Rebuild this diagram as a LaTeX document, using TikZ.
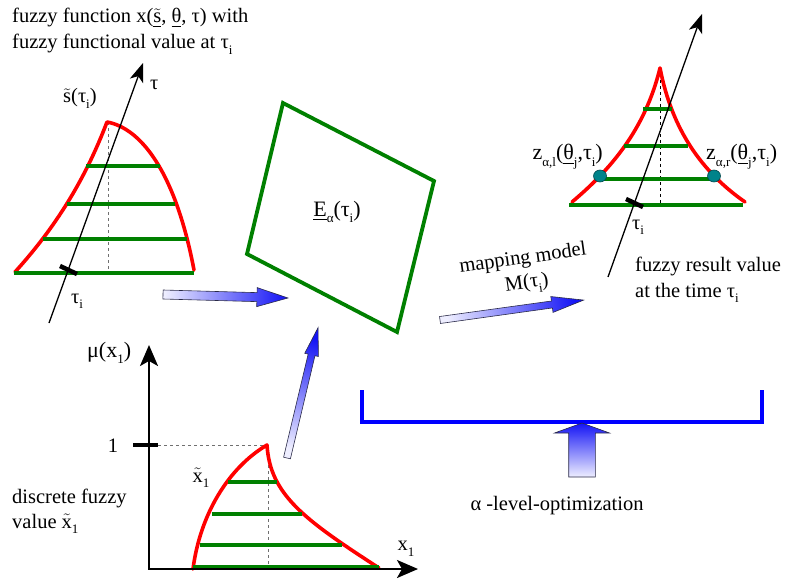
\documentclass[tikz,border=0pt]{standalone}
\usepackage{amsmath}
\usepackage{fontspec}
\setmainfont{Liberation Serif}
\usepackage{tikz}
\usetikzlibrary{arrows.meta,positioning,calc,shapes.geometric}
\definecolor{Ink}{HTML}{000000}
\definecolor{Guide}{HTML}{707070}
\definecolor{FzRed}{HTML}{FF0000}
\definecolor{FzGreen}{HTML}{008000}
\definecolor{FzBlue}{HTML}{0000FF}
\definecolor{Teal}{HTML}{00838A}
\definecolor{TealDark}{HTML}{00474B}
\definecolor{ArrowTail}{HTML}{EEEEFF}
\definecolor{ArrowHead}{HTML}{1414F5}
\definecolor{ArrowEdge}{HTML}{2A2A48}
\newcommand{\lowsub}[1]{\raisebox{-0.6ex}{\fontsize{13}{13}\selectfont #1}}
\newcommand{\fatarrow}[6]{%
  \begin{scope}[shift={#1},rotate=#2]
    \path[fat,shading angle={#2-90}] (0,-#4) -- (#3-#6,-#4) -- (#3-#6,-#5) -- (#3,0)
      -- (#3-#6,#5) -- (#3-#6,#4) -- (0,#4) -- cycle;
  \end{scope}}
\tikzset{
  memb/.style={draw=FzRed,line width=3.6pt,line cap=round,line join=round},
  cut/.style={draw=FzGreen,line width=3.8pt},
  tauaxis/.style={draw=Ink,line width=1.3pt,-{Stealth[length=19pt,width=14pt,inset=5pt]}},
  muaxis/.style={draw=Ink,line width=2.2pt,{Stealth[length=21pt,width=18pt,inset=5pt]}-{Stealth[length=21pt,width=18pt,inset=5pt]}},
  guide/.style={draw=Guide,dashed,line width=0.7pt},
  tickmark/.style={draw=Ink,line width=4.5pt},
  hullbox/.style={draw=FzGreen,line width=3.8pt,line join=miter},
  bracket/.style={draw=FzBlue,line width=4pt},
  zdot/.style={ellipse,draw=TealDark,line width=0.6pt,fill=Teal,minimum width=13pt,minimum height=12pt,inner sep=0pt},
  fat/.style={draw=ArrowEdge,line width=0.6pt,shading=axis,bottom color=ArrowTail,top color=ArrowHead},
  lbl/.style={font=\fontsize{20.5}{26}\selectfont,inner sep=0pt},
  midlbl/.style={font=\fontsize{22}{26}\selectfont,inner sep=0pt},
  nextline/.style={lbl,anchor=base west}
}
\begin{document}
\begin{tikzpicture}[x=1pt,y=-1pt]
  \useasboundingbox (0,0) rectangle (786,580);
  % fuzzy function over tau
  \node[nextline] (funtitle) at (12,23) {fuzzy function x($\underline{\tilde{\text{s}}}$, \underline{θ}, τ) with};
  \node[nextline] (funsub) at ($(funtitle.base west)+(0,26)$) {fuzzy functional value at τ\lowsub{i}};
  \draw[guide] (108,122) -- (108,273);
  \draw[memb] (15,272) .. controls (55,228) and (85,180) .. (107,122)
    .. controls (140,128) and (175,170) .. (194,270);
  \foreach \y/\a/\b in {166/86/160,204/67/175,239/43/187,273/14/194}
    \draw[cut] (\a,\y) -- (\b,\y);
  \coordinate (taubot) at (49,323);
  \coordinate (tautop) at (143,63);
  \draw[tauaxis] (taubot) -- (tautop);
  \draw[tickmark] (60,266) -- (77,274);
  \node[nextline] (stilde) at (63,103) {$\tilde{\text{s}}$(τ\lowsub{i})};
  \node[nextline] (taulbl) at (150,90) {τ};
  \node[nextline] (tauileft) at (71,303) {τ\lowsub{i}};
  % alpha-level set
  \draw[hullbox] (283,103) -- (434,181) -- (397,332) -- (247,254) -- cycle;
  \node[midlbl] (elabel) at (337,212) {\underline{E}\lowsub{α}(τ\lowsub{i})};
  % fuzzy result
  \draw[guide,draw=Ink] (660,68) -- (660,205);
  \draw[memb] (572,202) .. controls (610,170) and (645,130) .. (660,68)
    .. controls (672,130) and (702,172) .. (745,202);
  \foreach \y/\a/\b in {109/643/672,146/624/688,179/600/713,205/569/743}
    \draw[cut] (\a,\y) -- (\b,\y);
  \draw[tauaxis] (608,277) -- (702,14);
  \draw[tickmark] (626,199) -- (643,207);
  \node[zdot] (zleft) at (600,176) {};
  \node[zdot] (zright) at (714,176) {};
  \node[midlbl,anchor=base east] (zl) at (603,160) {z\lowsub{α,l}(\underline{θ}\lowsub{j},τ\lowsub{i})};
  \node[midlbl,anchor=base west] (zr) at (706,160) {z\lowsub{α,r}(\underline{θ}\lowsub{j},τ\lowsub{i})};
  \node[nextline] (tauiright) at (632,229) {τ\lowsub{i}};
  \node[nextline] (result) at (635,271) {fuzzy result value};
  \node[nextline] (resulttime) at ($(result.base west)+(0,26)$) {at the time τ\lowsub{i}};
  \node[lbl,rotate=8] (mapping) at (523,259) {mapping model};
  \node[lbl,rotate=8] (mapname) at (527,284) {M(τ\lowsub{i})};
  % discrete fuzzy value
  \draw[guide] (158,445) -- (267,445);
  \draw[guide] (268,447) -- (268,569);
  \draw[memb] (193,569) .. controls (200,515) and (228,468) .. (267,445)
    .. controls (270,495) and (305,520) .. (379,568);
  \foreach \y/\a/\b in {482/228/277,514/212/302,545/200/342,567/193/379}
    \draw[cut] (\a,\y) -- (\b,\y);
  \draw[muaxis] (149,345) -- (149,569) -- (418,569);
  \draw[tickmark] (133,445) -- (158,445);
  \node[midlbl,anchor=base west] (mulbl) at (87,357) {μ(x\lowsub{1})};
  \node[lbl] (onelbl) at (113,446) {1};
  \node[lbl] (xtilde) at (201,478) {$\tilde{\text{x}}$\lowsub{1}};
  \node[lbl] (x1lbl) at (406,549) {x\lowsub{1}};
  \node[nextline] (discrete) at (12,503) {discrete fuzzy};
  \node[nextline] (discval) at ($(discrete.base west)+(0,25)$) {value $\tilde{\text{x}}$\lowsub{1}};
  % optimization
  \draw[bracket] (362,390) -- (362,422) -- (762,422) -- (762,390);
  \node[lbl] (optlbl) at (557,506) {α -level-optimization};
  % transfer arrows
  \coordinate (fromfun) at (163,294.5);
  \coordinate (fromx) at (287,458);
  \coordinate (frommap) at (440,320);
  \coordinate (fromopt) at (582,477);
  \fatarrow{(fromfun)}{-1.6}{125}{4.5}{9.5}{31}
  \fatarrow{(fromx)}{76.6}{134}{3.5}{7}{28}
  \fatarrow{(frommap)}{7.9}{145}{3.5}{8}{32}
  \fatarrow{(fromopt)}{90}{54}{13.3}{27.5}{10}
\end{tikzpicture}
\end{document}
